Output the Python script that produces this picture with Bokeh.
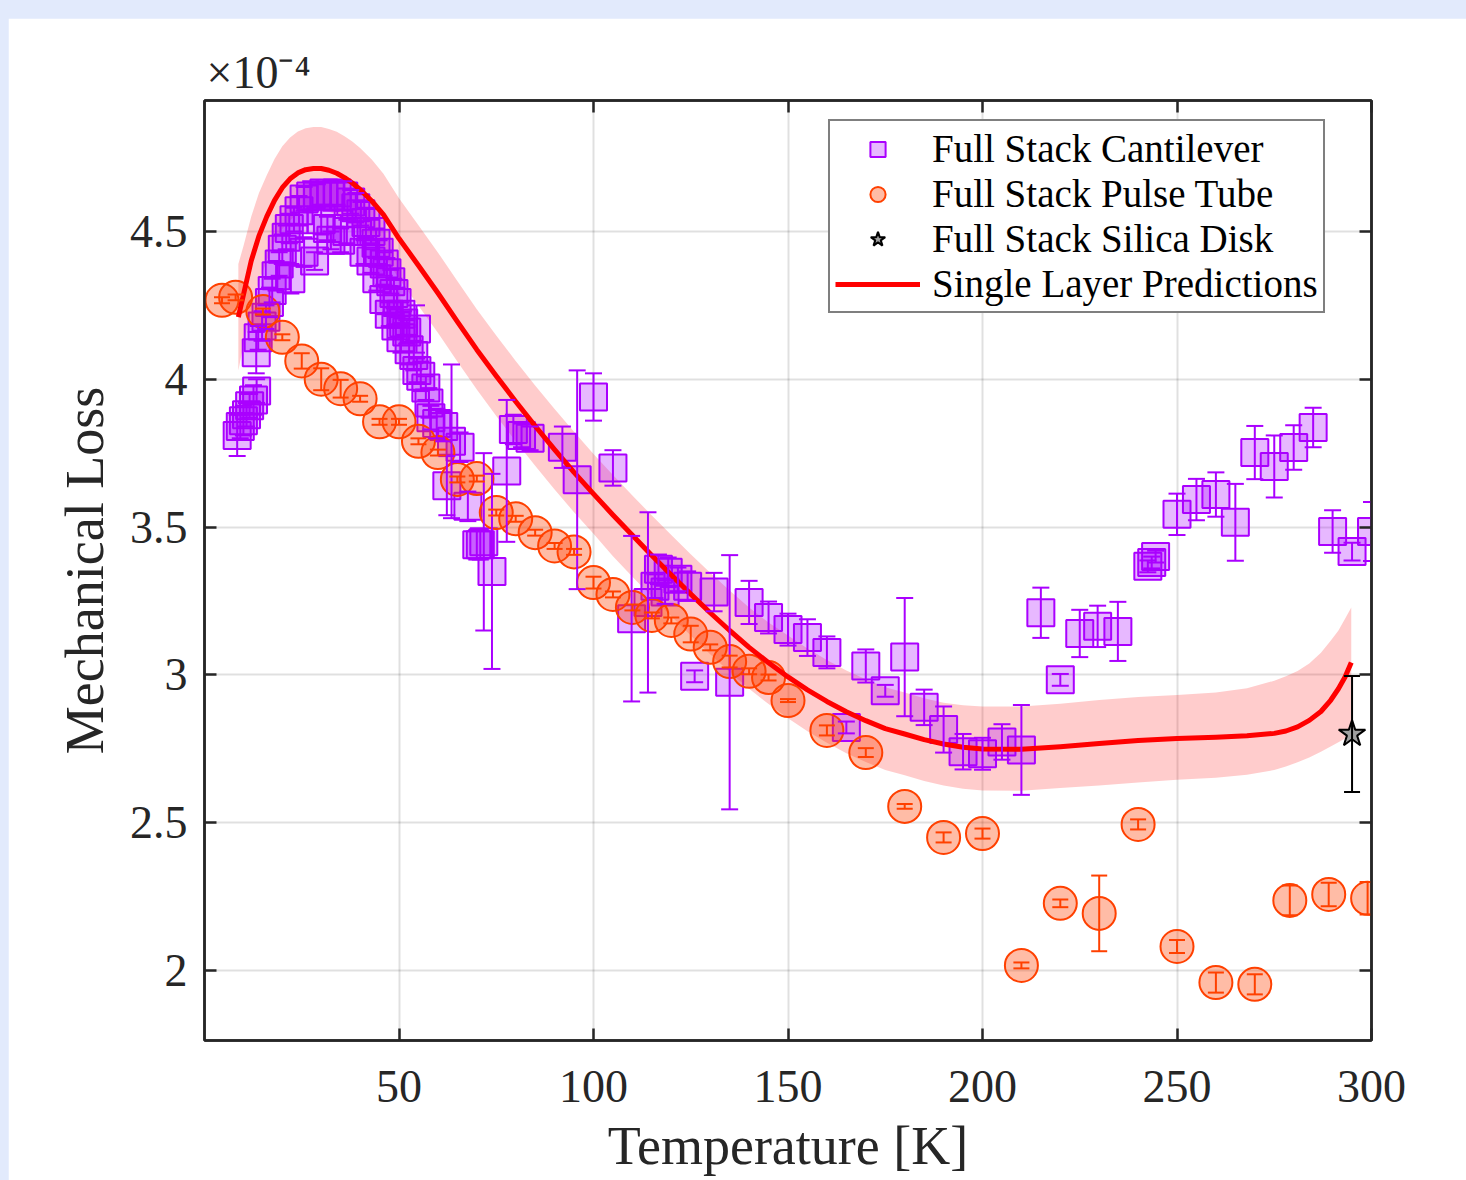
import numpy as np
from bokeh.plotting import figure
from bokeh.models import (ColumnDataSource, Whisker, TeeHead, FixedTicker, LinearAxis,
                          Legend, LegendItem, CustomJSTickFormatter, Range1d,
                          GlobalInlineStyleSheet)
from bokeh.embed import file_html
from bokeh.resources import INLINE

# ---------------- data (mechanical loss in units of 1e-4) ----------------
x_ticks = [50, 100, 150, 200, 250, 300]
y_ticks = [2, 2.5, 3, 3.5, 4, 4.5]

legend_labels = ["Full Stack Cantilever", "Full Stack Pulse Tube",
                 "Full Stack Silica Disk", "Single Layer Predictions"]

cant_T = [8.4, 9.2, 10.0, 10.8, 11.6, 12.6, 13.4,
          13.3, 13.8, 14.8, 15.8, 16.7, 17.4, 18.4, 19.2, 20.0, 21.0, 21.8, 22.2, 23.0,
          24.3, 25.6, 25.6, 27.3, 28.3, 29.0, 30.0, 30.7, 31.6, 32.5, 32.5, 34.1, 35.0,
          35.8, 36.6, 37.6, 38.9,
          40.2, 41.0, 41.5, 42.8, 42.8, 44.1, 44.3, 44.9, 46.1, 46.2, 46.9, 47.5, 47.9,
          48.7, 49.2, 49.5, 50.5, 50.5, 51.2, 52.0, 52.6, 53.8, 54.5, 54.6, 55.6, 56.9,
          57.7, 58.2, 59.7,
          61.5, 62.3, 63.5, 65.7, 67.7, 70.0, 70.9, 71.8, 73.9, 77.7, 79.4, 81.5, 83.7,
          92.0, 95.8, 100.0, 105.0, 109.8, 114.0, 115.8, 116.7, 118.4, 119.2, 121.7,
          124.2, 126.0, 131.0, 135.0, 140.0, 145.0, 150.0, 155.0, 160.0, 165.0, 170.0,
          175.0, 180.0, 185.0, 190.0, 195.0, 200.0, 205.0, 210.0, 215.0, 220.0, 225.0,
          229.6, 234.8, 242.5, 243.5, 244.5, 250.0, 255.0, 260.0, 265.0, 270.0, 275.0,
          280.0, 285.0, 290.0, 295.0, 300.0]
cant_y = [3.81, 3.84, 3.86, 3.88, 3.91, 3.93, 3.96,
          4.09, 4.14, 4.18, 4.21, 4.26, 4.30, 4.35, 4.39, 4.44, 4.48, 4.51, 4.34, 4.54,
          4.57, 4.43, 4.61, 4.62, 4.40, 4.62, 4.54, 4.63, 4.51, 4.47, 4.62, 4.63, 4.47,
          4.62, 4.50, 4.60, 4.58,
          4.56, 4.43, 4.53, 4.50, 4.40, 4.46, 4.34, 4.43, 4.27, 4.39, 4.36, 4.22, 4.33,
          4.29, 4.18, 4.26, 4.22, 4.14, 4.19, 4.16, 4.10, 4.08, 4.17, 4.03, 4.01, 3.97,
          3.92, 3.87, 3.85,
          3.84, 3.64, 3.79, 3.77, 3.57, 3.44, 3.44, 3.45, 3.35, 3.69, 3.83, 3.81, 3.80,
          3.77, 3.66, 3.94, 3.70, 3.19, 3.245, 3.30, 3.357, 3.28, 3.347, 3.323,
          3.30, 2.995, 3.28, 2.975, 3.245, 3.194, 3.153, 3.126, 3.076, 2.822, 3.03,
          2.946, 3.06, 2.89, 2.815, 2.74, 2.733, 2.773, 2.746, 3.21, 2.983, 3.14,
          3.164, 3.147, 3.367, 3.38, 3.40, 3.543, 3.593, 3.61, 3.516, 3.752, 3.705,
          3.769, 3.837, 3.485, 3.417, 3.485]
cant_err = [0.07, 0.04, 0.05, 0.04, 0.04, 0.05, 0.04,
            0.07, 0.04, 0.05, 0.04, 0.05, 0.04, 0.05, 0.04, 0.05, 0.04, 0.05, 0.05, 0.04,
            0.05, 0.05, 0.04, 0.05, 0.03, 0.04, 0.05, 0.04, 0.04, 0.03, 0.05, 0.04, 0.04,
            0.05, 0.04, 0.04, 0.05,
            0.04, 0.04, 0.05, 0.04, 0.04, 0.05, 0.04, 0.04, 0.05, 0.04, 0.05, 0.04, 0.04,
            0.05, 0.04, 0.05, 0.04, 0.05, 0.04, 0.04, 0.05, 0.05, 0.08, 0.04, 0.05, 0.04,
            0.05, 0.04, 0.05,
            0.05, 0.10, 0.26, 0.05, 0.05, 0.05, 0.05, 0.30, 0.33, 0.24, 0.05, 0.04, 0.04,
            0.07, 0.37, 0.08, 0.06, 0.28, 0.305, 0.04, 0.05, 0.04, 0.05, 0.04,
            0.05, 0.02, 0.065, 0.43, 0.073, 0.054, 0.054, 0.062, 0.054, 0.02, 0.056,
            0.02, 0.20, 0.06, 0.078, 0.06, 0.054, 0.06, 0.152, 0.085, 0.02, 0.08,
            0.07, 0.10, 0.02, 0.02, 0.02, 0.07, 0.07, 0.075, 0.13, 0.09, 0.105,
            0.075, 0.067, 0.072, 0.03, 0.10]

pt_T = [4.5, 8, 15, 20, 25, 30, 35, 40, 45, 50, 55, 60, 65, 70, 75, 80, 85, 90, 95,
        100, 105, 110, 115, 120, 125, 130, 135, 140, 145, 150, 160, 170, 180, 190, 200,
        210, 220, 230, 240, 250, 260, 270, 279, 289, 299]
pt_y = [4.267, 4.277, 4.229, 4.142, 4.062, 4.0, 3.968, 3.934, 3.856, 3.856, 3.79,
        3.752, 3.661, 3.664, 3.549, 3.528, 3.481, 3.436, 3.416, 3.312, 3.272, 3.228,
        3.201, 3.184, 3.138, 3.093, 3.045, 3.012, 2.991, 2.913, 2.812, 2.737, 2.555,
        2.45, 2.463, 2.017, 2.227, 2.193, 2.494, 2.081, 1.959, 1.953, 2.237, 2.257, 2.244]
pt_err = [0.01, 0.01, 0.01, 0.01, 0.026, 0.037, 0.03, 0.01, 0.01, 0.01, 0.01, 0.01,
          0.01, 0.01, 0.01, 0.01, 0.01, 0.01, 0.01, 0.02, 0.01, 0.01, 0.01, 0.01, 0.028,
          0.01, 0.02, 0.01, 0.01, 0.005, 0.017, 0.015, 0.008, 0.017, 0.017, 0.01, 0.013,
          0.128, 0.017, 0.022, 0.034, 0.034, 0.05, 0.04, 0.055]

disk_T = [295.0]
disk_y = [2.80]
disk_err = [0.196]

pred_T = [8.7, 10, 12, 14, 16, 18, 20, 22, 24, 26, 28, 30, 32, 34, 36, 38, 40, 43, 46,
          50, 55, 60, 65, 70, 75, 80, 85, 90, 95, 100, 105, 110, 115, 120, 125, 130,
          135, 140, 145, 150, 155, 160, 165, 170, 175, 180, 185, 190, 195, 200, 210,
          220, 230, 240, 250, 260, 268, 275, 278, 281, 284, 287, 289.5, 291.5, 293.2,
          294.8]
pred_y = [4.21, 4.285, 4.40, 4.485, 4.55, 4.605, 4.648, 4.678, 4.698, 4.709, 4.713,
          4.713, 4.707, 4.697, 4.682, 4.664, 4.642, 4.603, 4.557, 4.476, 4.385, 4.292,
          4.195, 4.100, 4.011, 3.925, 3.842, 3.762, 3.685, 3.612, 3.541, 3.472, 3.404,
          3.338, 3.273, 3.210, 3.150, 3.093, 3.041, 2.993, 2.949, 2.910, 2.875, 2.845,
          2.818, 2.800, 2.781, 2.766, 2.755, 2.749, 2.748, 2.757, 2.768, 2.778, 2.785,
          2.789, 2.794, 2.802, 2.810, 2.824, 2.846, 2.876, 2.914, 2.953, 2.993, 3.042]
pred_hi = [4.39, 4.45, 4.55, 4.63, 4.69, 4.745, 4.788, 4.818, 4.838, 4.849, 4.853,
           4.853, 4.847, 4.837, 4.822, 4.804, 4.782, 4.743, 4.695, 4.612, 4.521, 4.429,
           4.332, 4.237, 4.148, 4.062, 3.979, 3.899, 3.822, 3.747, 3.676, 3.607, 3.539,
           3.473, 3.408, 3.345, 3.285, 3.228, 3.177, 3.133, 3.089, 3.050, 3.015, 2.985,
           2.958, 2.940, 2.921, 2.906, 2.897, 2.893, 2.893, 2.902, 2.915, 2.925, 2.932,
           2.940, 2.955, 2.980, 2.995, 3.013, 3.038, 3.075, 3.115, 3.150, 3.190, 3.228]
pred_lo = [4.03, 4.115, 4.24, 4.33, 4.40, 4.465, 4.508, 4.538, 4.558, 4.569, 4.573,
           4.573, 4.567, 4.557, 4.542, 4.524, 4.502, 4.463, 4.42, 4.34, 4.249, 4.157,
           4.06, 3.965, 3.876, 3.79, 3.707, 3.627, 3.55, 3.477, 3.401, 3.332, 3.264,
           3.198, 3.133, 3.07, 3.01, 2.953, 2.901, 2.853, 2.809, 2.77, 2.735, 2.705,
           2.678, 2.66, 2.641, 2.626, 2.615, 2.609, 2.608, 2.617, 2.626, 2.636, 2.645,
           2.652, 2.662, 2.678, 2.690, 2.704, 2.72, 2.74, 2.758, 2.772, 2.785, 2.798]

# ---------------- styling ----------------
FONT = "Liberation Serif"
PURPLE = "#AA00FF"
ORANGE = "#FF4000"
AXC = "#262626"

def src(T, y, e):
    T = np.asarray(T, float); y = np.asarray(y, float); e = np.asarray(e, float)
    return ColumnDataSource(dict(T=T, y=y, lo=y - e, hi=y + e))

p = figure(width=1458, height=1162, output_backend="svg", toolbar_location=None,
           x_range=Range1d(0, 300), y_range=Range1d(1.763, 4.943),
           min_border_left=196, min_border_right=95, min_border_top=82,
           min_border_bottom=140)
p.margin = (18, 0, 0, 8)
p.stylesheets = [GlobalInlineStyleSheet(css="html, body { background-color: #e2eafc; }")]
p.background_fill_color = "white"
p.border_fill_color = "white"
p.outline_line_color = AXC
p.outline_line_width = 2.5

p.title.text = "\u00d710\u207b\u2074"
p.title.text_font = FONT
p.title.text_font_size = "46px"
p.title.text_font_style = "normal"
p.title.text_color = AXC
p.title.align = "left"
p.title.offset = 2
p.title.standoff = 5

xt = FixedTicker(ticks=x_ticks)
yt = FixedTicker(ticks=y_ticks)

def style_axis(ax, ticker):
    ax.ticker = ticker
    ax.axis_line_color = AXC
    ax.axis_line_width = 2.5
    ax.major_tick_line_color = AXC
    ax.major_tick_line_width = 2.5
    ax.major_tick_in = 12
    ax.major_tick_out = 0
    ax.minor_tick_line_color = None
    ax.major_label_text_font = FONT
    ax.major_label_text_font_size = "46px"
    ax.major_label_text_color = AXC
    ax.axis_label_text_font = FONT
    ax.axis_label_text_font_size = "54px"
    ax.axis_label_text_font_style = "normal"
    ax.axis_label_text_color = AXC

style_axis(p.xaxis[0], xt)
style_axis(p.yaxis[0], yt)
p.xaxis.axis_label = "Temperature [K]"
p.yaxis.axis_label = "Mechanical Loss"
p.xaxis.major_label_standoff = 30
p.xaxis.axis_label_standoff = 11
p.yaxis.major_label_standoff = 17
p.yaxis.axis_label_standoff = 12
p.yaxis.formatter = CustomJSTickFormatter(code="return tick.toString();")

for loc, ticker in (("right", yt), ("above", xt)):
    ax = LinearAxis()
    style_axis(ax, ticker)
    ax.major_label_text_font_size = "0px"
    ax.major_label_standoff = 0
    ax.formatter = CustomJSTickFormatter(code="return '';")
    p.add_layout(ax, loc)

for g in (p.xgrid[0], p.ygrid[0]):
    g.grid_line_color = "#000000"
    g.grid_line_alpha = 0.12
    g.grid_line_width = 2
p.xgrid.ticker = xt
p.ygrid.ticker = yt

# band
p.varea(x=pred_T, y1=pred_lo, y2=pred_hi, fill_color="#FF0000", fill_alpha=0.2)

# cantilever
s_c = src(cant_T, cant_y, cant_err)
p.add_layout(Whisker(source=s_c, base="T", upper="hi", lower="lo", level="glyph",
                     line_color=PURPLE, line_width=2,
                     upper_head=TeeHead(size=17, line_color=PURPLE, line_width=2),
                     lower_head=TeeHead(size=17, line_color=PURPLE, line_width=2)))
r_c = p.scatter("T", "y", source=s_c, marker="square", size=27, fill_color=PURPLE,
                fill_alpha=0.28, line_color=PURPLE, line_width=2)

# pulse tube
s_p = src(pt_T, pt_y, pt_err)
p.add_layout(Whisker(source=s_p, base="T", upper="hi", lower="lo", level="glyph",
                     line_color=ORANGE, line_width=2,
                     upper_head=TeeHead(size=16, line_color=ORANGE, line_width=2),
                     lower_head=TeeHead(size=16, line_color=ORANGE, line_width=2)))
r_p = p.scatter("T", "y", source=s_p, marker="circle", size=33, fill_color=ORANGE,
                fill_alpha=0.35, line_color=ORANGE, line_width=2)

# prediction line
r_l = p.line(pred_T, pred_y, line_color="#FF0000", line_width=5, line_join="round")

# silica disk
s_d = src(disk_T, disk_y, disk_err)
p.add_layout(Whisker(source=s_d, base="T", upper="hi", lower="lo", level="glyph",
                     line_color="black", line_width=2,
                     upper_head=TeeHead(size=16, line_color="black", line_width=2),
                     lower_head=TeeHead(size=16, line_color="black", line_width=2)))
r_d = p.scatter("T", "y", source=s_d, marker="star", size=28, fill_color="#A0A0A0",
                line_color="black", line_width=2)

legend = Legend(items=[LegendItem(label=legend_labels[0], renderers=[r_c]),
                       LegendItem(label=legend_labels[1], renderers=[r_p]),
                       LegendItem(label=legend_labels[2], renderers=[r_d]),
                       LegendItem(label=legend_labels[3], renderers=[r_l])],
                location=(624, 727))
legend.label_text_font = FONT
legend.label_text_font_size = "39px"
legend.label_text_color = "black"
legend.label_height = 38
legend.glyph_height = 38
legend.glyph_width = 85
legend.label_standoff = 12
legend.spacing = 0
legend.padding = 5
legend.margin = 0
legend.border_line_color = "black"
legend.border_line_width = 2.5
legend.background_fill_color = "white"
legend.background_fill_alpha = 1.0
p.add_layout(legend, "center")

open("out.html", "w").write(file_html(p, INLINE))
